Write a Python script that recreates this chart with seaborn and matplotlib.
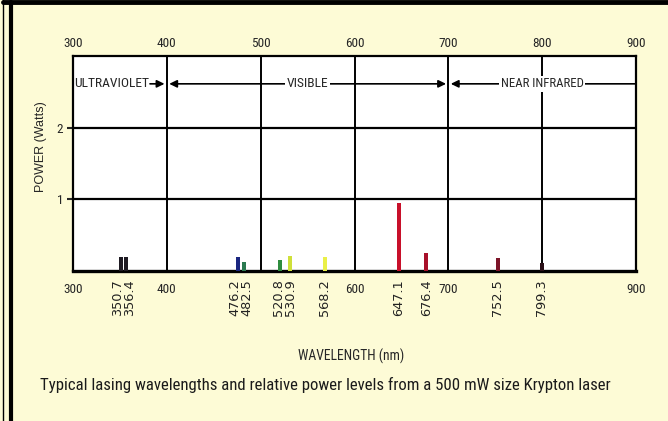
import os
import seaborn as sns
import pandas as pd
import matplotlib.pyplot as plt
import matplotlib.font_manager as fm
from matplotlib.lines import Line2D
from matplotlib.transforms import blended_transform_factory, ScaledTranslation

# Krypton laser lines (nm) and power (W)
wavelengths = [350.7, 356.4, 476.2, 482.5, 520.8, 530.9, 568.2, 647.1, 676.4, 752.5, 799.3]
powers = [0.20, 0.20, 0.20, 0.13, 0.15, 0.21, 0.19, 0.95, 0.25, 0.18, 0.11]
line_colors = ['#1e1a22', '#1e1a22', '#1a2680', '#2b7a50', '#2f8c3e', '#cfe03a',
               '#eaf048', '#c8102a', '#a8102a', '#7c1428', '#2a1018']
wave_labels = [f'{w:.1f}' for w in wavelengths]

top_ticks = [300, 400, 500, 600, 700, 800, 900]
bottom_ticks = [300, 400, 600, 700, 900]
power_ticks = [1, 2]

regions = ['ULTRAVIOLET', 'VISIBLE', 'NEAR INFRARED']

df = pd.DataFrame({'wavelength': wavelengths, 'power': powers, 'label': wave_labels})

sns.set_style('white')
plt.rcParams['font.family'] = ['Liberation Sans', 'DejaVu Sans']


# look for a condensed face, else shrink the regular one
def find_narrow():
    pats = ['liberationsansnarrow-regular', 'robotocondensed-regular', 'roboto_condensed-regular',
            'notosans-condensed.', 'notosans-condensedregular', 'opensans_condensed-regular',
            'opensanscondensed', 'dejavusanscondensed.']
    names = sorted({os.path.basename(f.fname) for f in fm.fontManager.ttflist})
    for p in pats:
        for n in names:
            if n.lower().startswith(p):
                return next(f.fname for f in fm.fontManager.ttflist if os.path.basename(f.fname) == n)
    return None


narrow_file = find_narrow()
if narrow_file:
    fp = fm.FontProperties(fname=narrow_file)
    k = 1.0
else:
    fp = fm.FontProperties(family=['Liberation Sans', 'DejaVu Sans'])
    k = 0.82

cream = '#fdfbd6'
fig = plt.figure(figsize=(6.68, 4.21), dpi=100, facecolor=cream)
ax = fig.add_axes([0.1093, 0.3563, 0.843, 0.511])
ax.set_facecolor('white')

sns.barplot(data=df, x='wavelength', y='power', hue='label',
            palette=dict(zip(wave_labels, line_colors)), native_scale=True,
            dodge=False, legend=False, width=0.75, saturation=1,
            edgecolor='none', linewidth=0, ax=ax, zorder=3)

ax.set_xlim(300, 900)
ax.set_ylim(0, 3)

# grid
for x in top_ticks[1:-1]:
    ax.axvline(x, color='black', lw=1.4, zorder=1)
for y in power_ticks:
    ax.axhline(y, color='black', lw=1.6, zorder=1)
for s in ax.spines.values():
    s.set_visible(True)
    s.set_color('black')
    s.set_linewidth(1.6)
ax.spines['bottom'].set_linewidth(2.4)

ax.set_xticks(bottom_ticks)
ax.set_xticklabels([str(t) for t in bottom_ticks], fontproperties=fp, fontsize=9.5 * k)
ax.tick_params(axis='x', which='major', length=0, pad=9)
ax.set_xlabel('WAVELENGTH (nm)', fontproperties=fp, fontsize=9.8 * k)
ax.xaxis.set_label_coords(0.4947, -0.36)

# rotated line labels, nudged apart where lines sit close together
px_per_nm = 0.843 * 668 / 600
min_sep = 12.0
xs = [w * px_per_nm for w in wavelengths]
shift = [0.0] * len(xs)
for i in range(len(xs) - 1):
    gap = xs[i + 1] - xs[i]
    if gap < min_sep:
        shift[i] -= (min_sep - gap) / 2
        shift[i + 1] += (min_sep - gap) / 2
base = blended_transform_factory(ax.transData, ax.transAxes)
for w, lab, dx in zip(wavelengths, wave_labels, shift):
    ax.text(w, -0.04, lab, rotation=90, ha='center', va='top', fontsize=9.3,
            family='DejaVu Sans', color='#222222',
            transform=base + ScaledTranslation(dx / 100, 0, fig.dpi_scale_trans))

top = ax.secondary_xaxis('top')
top.set_xticks(top_ticks)
top.set_xticklabels([str(t) for t in top_ticks], fontproperties=fp, fontsize=9.5 * k)
top.tick_params(length=0, pad=4.5)
top.spines['top'].set_visible(False)

ax.set_yticks(power_ticks)
ax.set_yticklabels([str(t) for t in power_ticks], fontproperties=fp, fontsize=9.5 * k)
ax.tick_params(axis='y', length=4, width=1.5, pad=3, left=True)
ax.set_ylabel('POWER (Watts)', fontsize=9)
ax.yaxis.set_label_coords(-0.0465, 0.58)

# region annotations
ya = 2.61
hs = 'head_length=0.45,head_width=0.22'
ax.text(301.5, ya, regions[0], ha='left', va='center', fontproperties=fp, fontsize=9.7 * k, zorder=5)
ax.annotate('', xy=(397.5, ya), xytext=(382, ya),
            arrowprops=dict(arrowstyle='-|>,' + hs, color='black', lw=1.2, shrinkA=0, shrinkB=0), zorder=5)
ax.annotate('', xy=(402.5, ya), xytext=(697.5, ya),
            arrowprops=dict(arrowstyle='<|-|>,' + hs, color='black', lw=1.2, shrinkA=0, shrinkB=0), zorder=4)
ax.text(550, ya, regions[1], ha='center', va='center', fontproperties=fp, fontsize=9.7 * k, zorder=6,
        bbox=dict(facecolor='white', edgecolor='none', pad=1.2))
ax.annotate('', xy=(702.5, ya), xytext=(900, ya),
            arrowprops=dict(arrowstyle='-|>,' + hs, color='black', lw=1.2, shrinkA=0, shrinkB=0), zorder=4)
ax.text(800, ya, regions[2], ha='center', va='center', fontproperties=fp, fontsize=9.2 * k, zorder=6,
        bbox=dict(facecolor='white', edgecolor='none', pad=1.2))

fig.text(0.06, 0.085, 'Typical lasing wavelengths and relative power levels from a 500 mW size Krypton laser',
         fontproperties=fp, fontsize=12.1 * k, ha='left', va='center', color='#1a1a1a')

# page frame
fig.add_artist(Line2D([0.0052, 0.0052], [0, 1], transform=fig.transFigure, color='black', lw=1))
fig.add_artist(Line2D([0.0172, 0.0172], [0, 0.995], transform=fig.transFigure, color='black', lw=3))
fig.add_artist(Line2D([0.0052, 1], [0.996, 0.996], transform=fig.transFigure, color='black', lw=3.5))

fig.savefig('out.png', dpi=100, facecolor=cream)
